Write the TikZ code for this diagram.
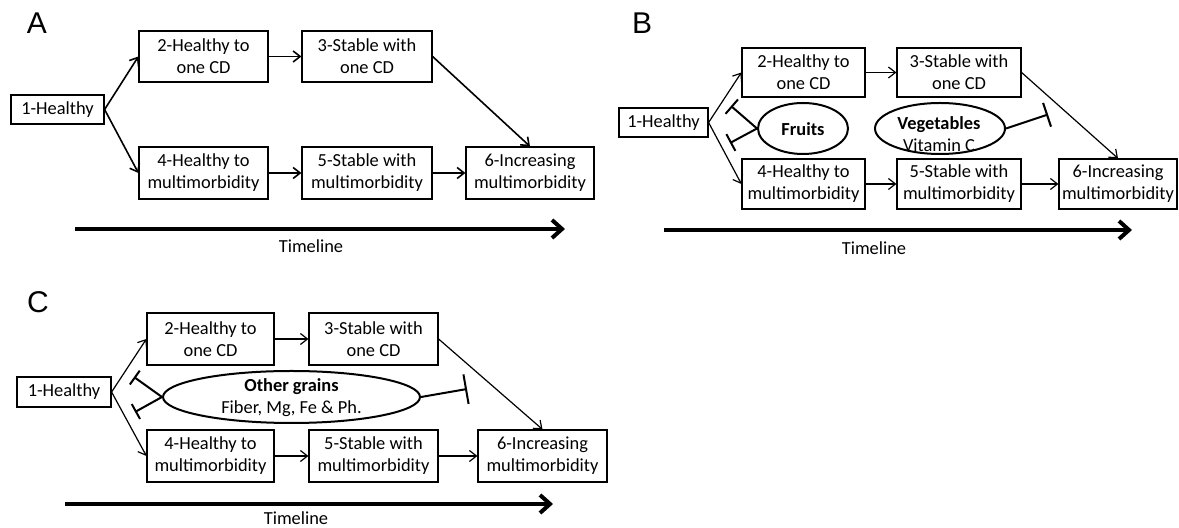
\documentclass[tikz,border=0pt]{standalone}
\usepackage{fontspec}
\setmainfont{Carlito}
\newfontfamily\lblfont{Liberation Sans}
\usetikzlibrary{arrows.meta,shapes.geometric}
\tikzset{
  box/.style={draw, line width=0.6pt, inner sep=0pt, align=center, font=\fontsize{9.2}{11}\selectfont},
  oval/.style={draw, ellipse, line width=1pt, inner sep=0pt},
  ovaltext/.style={align=center, inner sep=0pt, font=\fontsize{9.2}{11}\selectfont},
  arr/.style={-{Straight Barb[length=3.5pt,width=5.5pt]}, line width=0.6pt},
  arrA/.style={-{Straight Barb[length=3.5pt,width=5.5pt]}, line width=0.8pt},
  inh/.style={line width=1pt, -{Bar[width=#1]}},
  tline/.style={line width=2pt, -{Straight Barb[length=5pt,width=9pt]}},
  tlabel/.style={font=\fontsize{9.2}{11}\selectfont, inner sep=0pt},
  panel/.style={font=\lblfont\fontsize{15}{17}\selectfont, inner sep=0pt}
}
\begin{document}
\begin{tikzpicture}[x=0.5pt, y=-0.5pt]
\useasboundingbox (0,0) rectangle (1179,528);

% ---------------- Panel A ----------------
\node[panel] (labA) at (37,23) {A};
\node[box, minimum width=46.5pt, minimum height=14.5pt] (a1) at (57.5,109.5) {1-Healthy};
\node[box, minimum width=64.5pt, minimum height=25.5pt] (a2) at (203.5,56.5) {2-Healthy to\\one CD};
\node[box, minimum width=65pt, minimum height=25.5pt] (a3) at (367,56.5) {3-Stable with\\one CD};
\node[box, minimum width=64.5pt, minimum height=26pt] (a4) at (203.5,173) {4-Healthy to\\multimorbidity};
\node[box, minimum width=65pt, minimum height=26pt] (a5) at (367,173) {5-Stable with\\multimorbidity};
\node[box, minimum width=64pt, minimum height=26pt] (a6) at (530,173) {6-Increasing\\multimorbidity};
\draw[arrA] (a1.east) -- (a2.west);
\draw[arrA] (a1.east) -- (a4.west);
\draw[arrA] (a2) -- (a3);
\draw[arrA] (a4) -- (a5);
\draw[arrA] (a5) -- (a6);
\draw[arrA] (a3.east) -- (a6.north);
\coordinate (tA0) at (75,229);
\coordinate (tA1) at (565,229);
\draw[tline] (tA0) -- (tA1);
\node[tlabel] (tlA) at (311,246) {Timeline};

% ---------------- Panel B ----------------
\node[panel] (labB) at (642,23) {B};
\node[box, minimum width=44.5pt, minimum height=14.5pt] (b1) at (663.5,122.5) {1-Healthy};
\node[box, minimum width=61.5pt, minimum height=24.5pt] (b2) at (803.5,72.5) {2-Healthy to\\one CD};
\node[box, minimum width=62pt, minimum height=24.5pt] (b3) at (959,72.5) {3-Stable with\\one CD};
\node[box, minimum width=61.5pt, minimum height=25pt] (b4) at (803.5,184) {4-Healthy to\\multimorbidity};
\node[box, minimum width=62pt, minimum height=25pt] (b5) at (959,184) {5-Stable with\\multimorbidity};
\node[box, minimum width=59pt, minimum height=25pt] (b6) at (1118,184) {6-Increasing\\multimorbidity};
\draw[arr] (b1.east) -- (b2.west);
\draw[arr] (b1.east) -- (b4.west);
\draw[arr] (b2) -- (b3);
\draw[arr] (b4) -- (b5);
\draw[arr] (b5) -- (b6);
\draw[arr] (b3.east) -- (b6.north);
\node[oval, minimum width=45pt, minimum height=25.5pt] (fruit) at (803,128.5) {};
\node[ovaltext] (fruitt) at (803,129) {\textbf{Fruits}};
\node[oval, minimum width=65pt, minimum height=25.5pt] (veg) at (940,128.5) {};
\node[ovaltext] (vegt) at (939,134) {\textbf{Vegetables}\\Vitamin C};
\coordinate (fT1) at (731,106);
\coordinate (fT2) at (730,143);
\coordinate (vT) at (1048,114.5);
\draw[inh=9.5pt] (fruit.west) -- (fT1);
\draw[inh=9.5pt] (fruit.west) -- (fT2);
\draw[inh=12.5pt] (veg.east) -- (vT);
\coordinate (tB0) at (664,230);
\coordinate (tB1) at (1132,230);
\draw[tline] (tB0) -- (tB1);
\node[tlabel] (tlB) at (874,248) {Timeline};

% ---------------- Panel C ----------------
\node[panel] (labC) at (38,302) {C};
\node[box, minimum width=47pt, minimum height=15pt] (c1) at (64,392) {1-Healthy};
\node[box, minimum width=63.5pt, minimum height=26pt] (c2) at (210.5,339) {2-Healthy to\\one CD};
\node[box, minimum width=64.5pt, minimum height=26pt] (c3) at (373.5,339) {3-Stable with\\one CD};
\node[box, minimum width=63.5pt, minimum height=26pt] (c4) at (210.5,456) {4-Healthy to\\multimorbidity};
\node[box, minimum width=64.5pt, minimum height=26pt] (c5) at (373.5,456) {5-Stable with\\multimorbidity};
\node[box, minimum width=64.5pt, minimum height=26pt] (c6) at (542.5,456) {6-Increasing\\multimorbidity};
\draw[arr] (c1.east) -- (c2.west);
\draw[arr] (c1.east) -- (c4.west);
\draw[arr] (c2) -- (c3);
\draw[arr] (c4) -- (c5);
\draw[arr] (c5) -- (c6);
\draw[arr] (c3.east) -- (c6.north);
\node[oval, minimum width=128.5pt, minimum height=26pt] (grain) at (291.5,397) {};
\node[ovaltext] (graint) at (291.5,398) {\textbf{Other grains}\\Fiber, Mg, Fe \& Ph.};
\coordinate (gT1) at (134,377);
\coordinate (gT2) at (135,412);
\coordinate (gT3) at (467,389);
\draw[inh=8.5pt] (grain.west) -- (gT1);
\draw[inh=8.5pt] (grain.west) -- (gT2);
\draw[inh=15pt] (grain.east) -- (gT3);
\coordinate (tC0) at (65,504);
\coordinate (tC1) at (553,504);
\draw[tline] (tC0) -- (tC1);
\node[tlabel] (tlC) at (296,518) {Timeline};
\end{tikzpicture}
\end{document}
